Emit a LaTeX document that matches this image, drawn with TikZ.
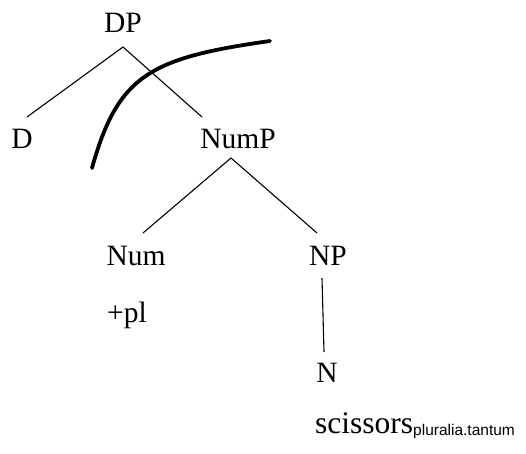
\documentclass[tikz,border=0pt]{standalone}
\usepackage{fontspec}
\setmainfont{Liberation Serif}
\newfontfamily\subsans{Liberation Sans}
\begin{document}
\begin{tikzpicture}[x=1pt,y=-1pt,
  lbl/.style={anchor=base,inner sep=0pt,font=\fontsize{29.5}{30}\selectfont},
  branch/.style={line width=1.1pt},
  cut/.style={line width=3.8pt,line cap=round}]
\useasboundingbox (0,0) rectangle (526,453);
% labels
\node[lbl] (DP) at (123,32) {DP};
\node[lbl] (D) at (22,148) {D};
\node[lbl] (NumP) at (238,148) {NumP};
\node[lbl] (Num) at (136,265) {Num};
\node[lbl] (NP) at (328,265) {NP};
\node[lbl,anchor=base west] (pl) at (107,322) {+pl};
\node[lbl] (N) at (327,382) {N};
\node[lbl,anchor=base west,font=\fontsize{31.5}{32}\selectfont] (sc) at (315,433) {scissors{\subsans\fontsize{15.5}{16}\selectfont\raisebox{-2pt}{pluralia.tantum}}};
% branch points
\coordinate (dpB) at (123,47);
\coordinate (dT) at (27,117);
\coordinate (numpT) at (202,117);
\coordinate (numpB) at (231,158);
\coordinate (numT) at (143,233);
\coordinate (npT) at (317,233);
\coordinate (npB) at (322,278);
\coordinate (nT) at (324,352);
\draw[branch] (dT) -- (dpB) -- (numpT);
\draw[branch] (numT) -- (numpB) -- (npT);
\draw[branch] (npB) -- (nT);
% curve
\coordinate (cS) at (92,168);
\coordinate (cE) at (270,41);
\draw[cut] (cS) .. controls (118,75) and (150,58) .. (cE);
\end{tikzpicture}
\end{document}
